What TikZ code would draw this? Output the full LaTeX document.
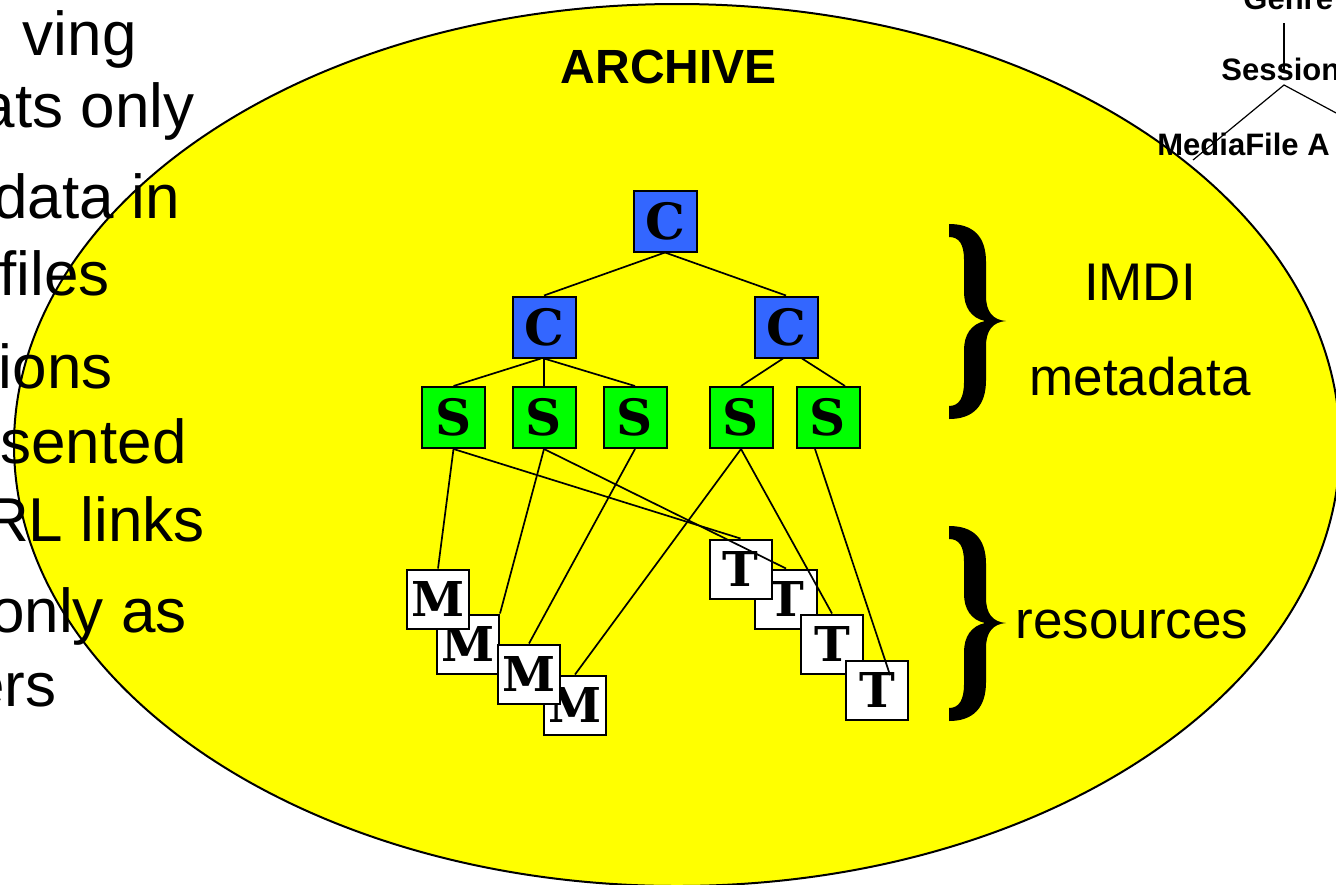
\documentclass[tikz,border=0pt]{standalone}
\usepackage{fontspec}
\setmainfont{Liberation Sans}
\newfontfamily\letterfont{DejaVu Serif}
\usetikzlibrary{calc}
\definecolor{cblue}{RGB}{51,102,255}
\definecolor{sgreen}{RGB}{0,255,0}
\definecolor{archy}{RGB}{255,255,0}
\tikzset{
  box/.style={draw=black, line width=1pt, minimum width=31.5pt, minimum height=30.5pt, inner sep=0pt,
    font=\letterfont\bfseries\fontsize{25}{25}\selectfont},
  cbox/.style={box, fill=cblue},
  sbox/.style={box, fill=sgreen},
  rbox/.style={box, fill=white, minimum width=31pt, minimum height=29.5pt,
    font=\letterfont\bfseries\fontsize{24}{24}\selectfont},
  link/.style={line width=0.85pt},
  treelink/.style={line width=0.6pt},
  lefttext/.style={anchor=base east, inner sep=0pt, font=\fontsize{31}{31}\selectfont},
  sidetext/.style={anchor=base, inner sep=0pt, font=\fontsize{26.5}{26.5}\selectfont},
  treetext/.style={anchor=base west, inner sep=0pt, font=\bfseries\fontsize{15.5}{15.5}\selectfont},
  bracefill/.style={fill=black},
}
\begin{document}
\begin{tikzpicture}[x=0.5pt,y=-0.5pt]
\useasboundingbox (0,0) rectangle (1336,884);
\clip (0,0) rectangle (1336,884);
\fill[white] (0,0) rectangle (1336,884);

% archive ellipse
\draw[fill=archy, line width=1pt] (677,445) ellipse [x radius=663, y radius=441];

% left bullet text (cut off at the left edge, as in the slide)
\node[lefttext] (t1) at (137,55) {ving};
\node[lefttext] (t2) at (195,127) {ats only};
\node[lefttext] (t3) at (180,218) {data in};
\node[lefttext] (t4) at (110,295) {files};
\node[lefttext] (t5) at (113,388) {ions};
\node[lefttext] (t6) at (187,463) {sented};
\node[lefttext] (t7) at (205,541) {RL links};
\node[lefttext] (t8) at (187,632) {only as};
\node[lefttext] (t9) at (57,706) {ers};

% title
\node[anchor=base, inner sep=0pt, font=\bfseries\fontsize{24}{24}\selectfont] (archive) at (669,83) {ARCHIVE};

% top-right tree
\node[treetext] (genre) at (1243,9) {Genre};
\node[treetext] (session) at (1221,80) {Session};
\node[treetext] (media) at (1157,155) {MediaFile A};
\coordinate (g1) at (1284,23);
\coordinate (s1) at (1284,72);
\coordinate (s2) at (1284,85);
\coordinate (m1) at (1193,160);
\coordinate (a1) at (1338,114);
\draw[treelink] (g1) -- (s1);
\draw[treelink] (m1) -- (s2) -- (a1);

% corpus / session nodes
\node[cbox] (C0) at (665,221) {C};
\node[cbox] (C1) at (544,327) {C};
\node[cbox] (C2) at (786,327) {C};
\node[sbox] (S1) at (453.5,417.5) {S};
\node[sbox] (S2) at (544,417.5) {S};
\node[sbox] (S3) at (635,417.5) {S};
\node[sbox] (S4) at (741,417.5) {S};
\node[sbox] (S5) at (828,417.5) {S};

% resources
\node[rbox] (M2) at (468,644) {M};
\node[rbox] (M4) at (575,705) {M};
\node[rbox] (M1) at (438,599) {M};
\node[rbox] (M3) at (529,674) {M};
\node[rbox] (T2) at (786,599) {T};
\node[rbox] (T1) at (740.5,569) {T};
\node[rbox] (T3) at (832,644) {T};
\node[rbox] (T4) at (877,690) {T};

% tree connectors
\draw[link] (C0.south) -- (C1.north);
\draw[link] (C0.south) -- (C2.north);
\draw[link] ($(C1.south)+(-3,0)$) -- (S1.north);
\draw[link] (C1.south) -- (S2.north);
\draw[link] (C1.south) -- (S3.north);
\draw[link] ($(C2.south)+(-3,0)$) -- (S4.north);
\draw[link] ($(C2.south)+(16,0)$) -- ($(S5.north)+(17,0)$);

% resource links
\coordinate (t4end) at ($(T4.center)+(13,-15)$);
\draw[link] (S1.south) -- (M1.north);
\draw[link] (S1.south) -- (T1.north);
\draw[link] (S2.south) -- (M2.north east);
\draw[link] (S2.south) -- (T2.north);
\draw[link] (S3.south) -- (M3.north);
\draw[link] (S4.south) -- (M4.north);
\draw[link] (S4.south) -- (T3.north);
\draw[link] ($(S5.south)+(-13,0)$) -- (t4end);

% braces
\foreach \dy in {0,302}{
\begin{scope}[shift={(949,224+\dy)}]
\fill[bracefill] (0,0) .. controls (24,0) and (37,12) .. (37,38) -- (37,72)
  .. controls (37,88) and (44,96) .. (57,97)
  .. controls (44,98) and (37,106) .. (37,122) -- (37,156)
  .. controls (37,182) and (24,195) .. (0,195)
  -- (0,182) .. controls (10,182) and (15,174) .. (15,158) -- (15,126)
  .. controls (15,111) and (22,100) .. (36,97)
  .. controls (22,94) and (15,83) .. (15,68) -- (15,36)
  .. controls (15,20) and (10,13) .. (0,13) -- cycle;
\end{scope}
}

% side labels
\node[sidetext] (imdi) at (1140,300) {IMDI};
\node[sidetext] (meta) at (1140,395) {metadata};
\node[sidetext] (res) at (1132,638) {resources};
\end{tikzpicture}
\end{document}
